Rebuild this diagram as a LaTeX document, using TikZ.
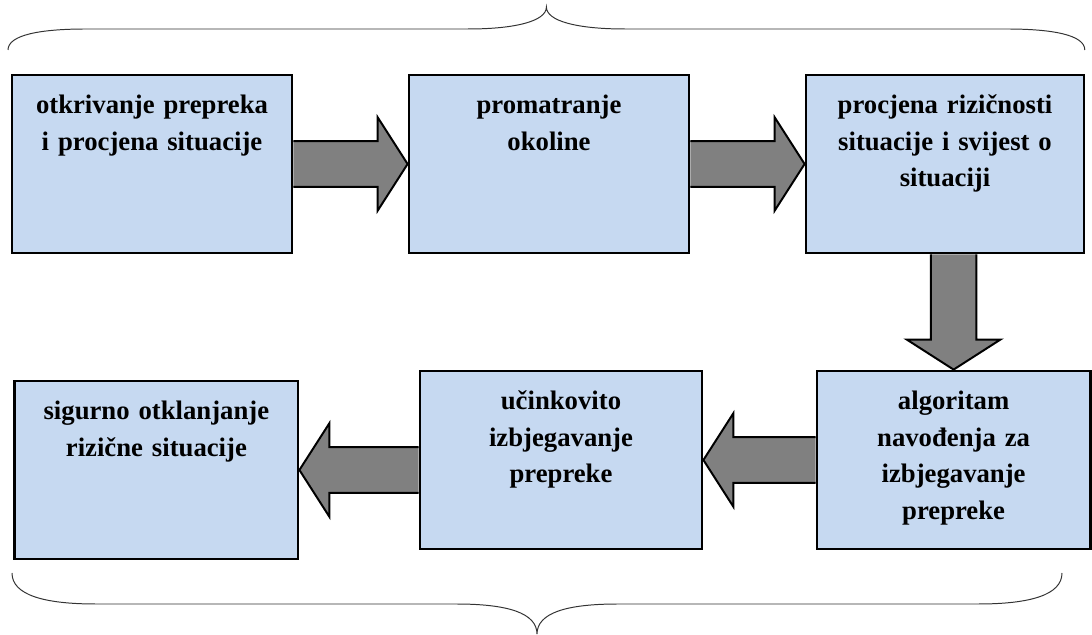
\documentclass[tikz,border=0pt]{standalone}
\usepackage{fontspec}
\setmainfont{Liberation Serif}
\usetikzlibrary{calc}
\definecolor{boxblue}{RGB}{198,217,241}

\begin{document}
\begin{tikzpicture}[
    box/.style={draw, line width=2pt, fill=boxblue, inner sep=0pt, text width=7cm, align=center, text height=0.97cm, text depth=3.48cm, font=\fontsize{19}{26}\selectfont\bfseries},
    fat/.style={draw, line width=1.4pt, fill=gray, line join=miter},
    brc/.style={line width=0.7pt, black!80}
]
\useasboundingbox (0,0) rectangle (27.3,15.875);

\node[box] (det) at (3.8,11.775) {otkrivanje prepreka\\i procjena situacije};
\node[box] (obs) at (13.725,11.775) {promatranje\\okoline};
\node[box, text width=6.95cm] (risk) at (23.625,11.775) {procjena rizičnosti\\situacije i svijest o\\situaciji};
\node[box, text width=6.83cm] (alg) at (23.84,4.375) {algoritam\\navođenja za\\izbjegavanje\\prepreke};
\node[box, text width=7.05cm] (avo) at (14.025,4.375) {učinkovito\\izbjegavanje\\prepreke};
\node[box, text width=7.08cm] (safe) at (3.91,4.125) {sigurno otklanjanje\\rizične situacije};

% block arrows
\draw[fat] ($(det.east)+(0,.57)$) -- ($(obs.west)+(-.75,.57)$) -- ($(obs.west)+(-.75,1.17)$) -- (obs.west) -- ($(obs.west)+(-.75,-1.17)$) -- ($(obs.west)+(-.75,-.57)$) -- ($(det.east)+(0,-.57)$);
\draw[fat] ($(obs.east)+(0,.57)$) -- ($(risk.west)+(-.75,.57)$) -- ($(risk.west)+(-.75,1.17)$) -- (risk.west) -- ($(risk.west)+(-.75,-1.17)$) -- ($(risk.west)+(-.75,-.57)$) -- ($(obs.east)+(0,-.57)$);
\draw[fat] ($(alg.north |- risk.south)+(-.57,0)$) -- ($(alg.north)+(-.57,.75)$) -- ($(alg.north)+(-1.17,.75)$) -- (alg.north) -- ($(alg.north)+(1.17,.75)$) -- ($(alg.north)+(.57,.75)$) -- ($(alg.north |- risk.south)+(.57,0)$);
\draw[fat] ($(alg.west)+(0,.57)$) -- ($(avo.east)+(.75,.57)$) -- ($(avo.east)+(.75,1.17)$) -- (avo.east) -- ($(avo.east)+(.75,-1.17)$) -- ($(avo.east)+(.75,-.57)$) -- ($(alg.west)+(0,-.57)$);
\draw[fat] ($(avo.west |- safe.east)+(0,.57)$) -- ($(safe.east)+(.75,.57)$) -- ($(safe.east)+(.75,1.17)$) -- (safe.east) -- ($(safe.east)+(.75,-1.17)$) -- ($(safe.east)+(.75,-.57)$) -- ($(avo.west |- safe.east)+(0,-.57)$);

% braces
\draw[brc] (0.2,14.625) .. controls (0.2,15.0) and (1.0,15.15) .. (2.15,15.15) -- (11.7,15.15) .. controls (12.9,15.15) and (13.66,15.35) .. (13.66,15.7) .. controls (13.66,15.35) and (14.42,15.15) .. (15.62,15.15) -- (25.17,15.15) .. controls (26.32,15.15) and (27.12,15.0) .. (27.12,14.625);
\draw[brc] (0.3,1.55) .. controls (0.3,1.0) and (1.1,0.775) .. (2.4,0.775) -- (11.4,0.775) .. controls (12.7,0.775) and (13.425,0.55) .. (13.425,0.02) .. controls (13.425,0.55) and (14.15,0.775) .. (15.45,0.775) -- (24.45,0.775) .. controls (25.75,0.775) and (26.55,1.0) .. (26.55,1.55);
\end{tikzpicture}
\end{document}
